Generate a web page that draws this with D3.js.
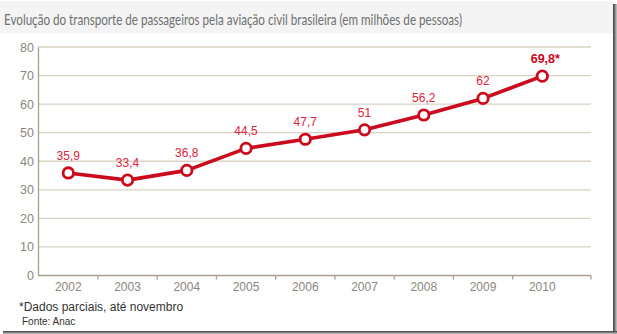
<!DOCTYPE html>
<html><head><meta charset="utf-8">
<script src="https://cdn.jsdelivr.net/npm/d3@7"></script>
<style>body{margin:0;background:#fff}svg{display:block}</style>
</head><body>
<script>
const years = ["2002","2003","2004","2005","2006","2007","2008","2009","2010"];
const values = [35.9, 33.4, 36.8, 44.5, 47.7, 51, 56.2, 62, 69.8];
const valueLabels = ["35,9","33,4","36,8","44,5","47,7","51","56,2","62","69,8*"];
const yTicks = [0,10,20,30,40,50,60,70,80];
const title = "Evolução do transporte de passageiros pela aviação civil brasileira (em milhões de pessoas)";
const note = "*Dados parciais, até novembro";
const source = "Fonte: Anac";

const W = 617, H = 334;
const svg = d3.select("body").append("svg").attr("width", W).attr("height", H);

// frame + shadow
const defs = svg.append("defs");
const gr = defs.append("linearGradient").attr("id","gr").attr("x1",0).attr("x2",1).attr("y1",0).attr("y2",0);
gr.append("stop").attr("offset",0).attr("stop-color","#3a3a3a");
gr.append("stop").attr("offset",1).attr("stop-color","#c8c8c8");
const gb = defs.append("linearGradient").attr("id","gb").attr("x1",0).attr("x2",0).attr("y1",0).attr("y2",1);
gb.append("stop").attr("offset",0).attr("stop-color","#3a3a3a");
gb.append("stop").attr("offset",1).attr("stop-color","#c8c8c8");
svg.append("rect").attr("x",0).attr("y",0).attr("width",W).attr("height",H).attr("fill","#fff");
svg.append("rect").attr("x",613).attr("y",4).attr("width",4).attr("height",330).attr("fill","url(#gr)");
svg.append("rect").attr("x",3).attr("y",331).attr("width",614).attr("height",3).attr("fill","url(#gb)");
svg.append("rect").attr("x",0).attr("y",1).attr("width",613).attr("height",32).attr("fill","#f4f4f4");

svg.append("text").attr("x",4).attr("y",25).text(title)
  .attr("font-family","Lato, 'Open Sans', sans-serif").attr("font-size",15).attr("fill","#707070")
  .attr("textLength",458).attr("lengthAdjust","spacingAndGlyphs");

const x = d3.scalePoint().domain(years).range([68.3, 542.3]);
const y = d3.scaleLinear().domain([0,80]).range([275.5, 47]);
const left = 38, right = 591;

// gridlines
svg.append("g").selectAll("line").data(yTicks.filter(d=>d>0)).join("line")
  .attr("x1",left).attr("x2",right).attr("y1",d=>y(d)).attr("y2",d=>y(d))
  .attr("stroke","#d9d2c5").attr("stroke-width",1.3);

// y axis
const yAxis = svg.append("g").attr("transform",`translate(${left},0)`)
  .call(d3.axisLeft(y).tickValues(yTicks).tickSize(0).tickPadding(4));
yAxis.select(".domain").attr("stroke","#a99f8e").attr("stroke-width",1.3);
yAxis.selectAll("text").attr("font-family","Liberation Sans, Arial, sans-serif").attr("font-size",12.5).attr("fill","#8a8580");

// x axis
const step = x.step();
const tickPos = years.slice(0,-1).map(d => x(d) + step/2);
const xg = svg.append("g");
xg.append("line").attr("x1",left).attr("x2",right).attr("y1",y(0)).attr("y2",y(0))
  .attr("stroke","#a99f8e").attr("stroke-width",1.3);
xg.selectAll("line.t").data(tickPos.concat([right])).join("line").attr("class","t")
  .attr("x1",d=>d).attr("x2",d=>d).attr("y1",y(0)).attr("y2",y(0)+4)
  .attr("stroke","#a99f8e").attr("stroke-width",1.3);
xg.selectAll("text").data(years).join("text")
  .attr("x",d=>x(d)).attr("y",291).attr("text-anchor","middle").text(d=>d)
  .attr("font-family","Liberation Sans, Arial, sans-serif").attr("font-size",12).attr("fill","#8a8580");

// line
const red = "#cc0a1e";
svg.append("path").datum(values)
  .attr("d", d3.line().x((d,i)=>x(years[i])).y(d=>y(d)))
  .attr("fill","none").attr("stroke",red).attr("stroke-width",3.6).attr("stroke-linejoin","round");
svg.append("g").selectAll("circle").data(values).join("circle")
  .attr("cx",(d,i)=>x(years[i])).attr("cy",d=>y(d)).attr("r",5.2)
  .attr("fill","#fff").attr("stroke",red).attr("stroke-width",2.8);

svg.append("g").selectAll("text").data(values).join("text")
  .attr("x",(d,i)=>x(years[i]) + (i===values.length-1 ? 3 : 0)).attr("y",d=>y(d)-13)
  .attr("text-anchor","middle").text((d,i)=>valueLabels[i])
  .attr("font-family","Liberation Sans, Arial, sans-serif")
  .attr("font-size",(d,i)=>i===values.length-1?12.5:12)
  .attr("font-weight",(d,i)=>i===values.length-1?"bold":"normal")
  .attr("fill",(d,i)=>i===values.length-1?"#d0021b":"#e0233a");

svg.append("text").attr("x",19).attr("y",311).text(note)
  .attr("font-family","Liberation Sans, Arial, sans-serif").attr("font-size",12).attr("fill","#333");
svg.append("text").attr("x",22).attr("y",325).text(source)
  .attr("font-family","'Liberation Sans', Arial, sans-serif").attr("font-size",10).attr("fill","#333");
</script>
</body></html>
